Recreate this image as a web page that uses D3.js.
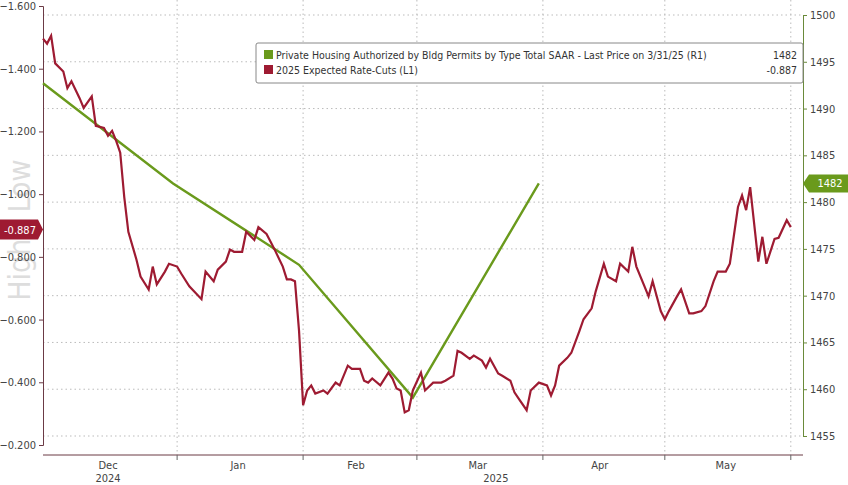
<!DOCTYPE html><html><head><meta charset="utf-8"><script src="https://cdn.jsdelivr.net/npm/d3@7"></script>
<style>body{margin:0;background:#fff}text{font-family:"Liberation Sans Narrow","DejaVu Sans Condensed",Arial,sans-serif}</style></head><body><svg id="c" width="848" height="485"></svg><script>
const leftTicks=[-1.6,-1.4,-1.2,-1.0,-0.8,-0.6,-0.4,-0.2];
const rightTicks=[1455,1460,1465,1470,1475,1480,1485,1490,1495,1500];
const monthLabels=["Dec","Jan","Feb","Mar","Apr","May"];
const monthDates=["2024-12-15","2025-01-16","2025-02-14","2025-03-16","2025-04-15","2025-05-16"];
const gridDates=["2025-01-01","2025-02-01","2025-03-01","2025-04-01","2025-05-01","2025-06-01"];
const permitDates=["2024-11-29","2024-12-31","2025-01-31","2025-02-28","2025-03-31"];
const permitValues=[1492.7,1482.0,1473.3,1459.1,1482.0];
const cutDays=[0,1,2,3,5,6,7,9,10,12,13,15,16,17,18,19,20,21,23,24,26,27,28,30,31,33,34,36,39,40,42,43,45,46,47,49,50,52,53,55,56,57,59,60,61,62,63,64,65,66,67,69,70,72,73,75,76,78,79,80,81,83,85,86,87,88,89,90,91,93,94,96,98,99,101,102,103,105,106,108,109,110,112,113,115,116,117,119,120,122,124,125,126,127,129,130,132,133,135,136,138,139,141,142,144,145,146,148,149,150,152,153,154,156,157,159,160,162,163,165,166,168,169,171,172,173,174,176,177,178,180,181,183,184];
const cutValues=[-1.496,-1.480,-1.505,-1.417,-1.391,-1.338,-1.360,-1.306,-1.275,-1.312,-1.218,-1.211,-1.186,-1.202,-1.170,-1.132,-0.990,-0.880,-0.791,-0.737,-0.696,-0.769,-0.712,-0.753,-0.778,-0.769,-0.747,-0.706,-0.665,-0.753,-0.722,-0.759,-0.785,-0.823,-0.816,-0.816,-0.880,-0.854,-0.895,-0.873,-0.848,-0.823,-0.769,-0.728,-0.728,-0.722,-0.564,-0.327,-0.374,-0.390,-0.364,-0.374,-0.364,-0.399,-0.390,-0.453,-0.443,-0.443,-0.405,-0.399,-0.412,-0.390,-0.431,-0.412,-0.380,-0.374,-0.304,-0.311,-0.374,-0.431,-0.374,-0.399,-0.399,-0.405,-0.421,-0.500,-0.494,-0.475,-0.485,-0.469,-0.447,-0.475,-0.428,-0.421,-0.405,-0.368,-0.349,-0.311,-0.374,-0.399,-0.390,-0.358,-0.390,-0.453,-0.478,-0.494,-0.564,-0.601,-0.636,-0.690,-0.778,-0.737,-0.722,-0.778,-0.753,-0.832,-0.769,-0.706,-0.674,-0.722,-0.627,-0.601,-0.627,-0.674,-0.696,-0.620,-0.620,-0.627,-0.643,-0.722,-0.753,-0.753,-0.778,-0.959,-0.996,-0.949,-1.022,-0.785,-0.864,-0.778,-0.857,-0.861,-0.917,-0.895];
const startDate=new Date(2024,10,29);
const svg=d3.select("#c");
const L=43,R=803,T=0,B=455;
const x=d3.scaleTime().domain([startDate,new Date(2025,5,4)]).range([L,R]);
const yL=d3.scaleLinear().domain([-1.6,-0.2]).range([6,445]);
const yR=d3.scaleLinear().domain([1455,1500]).range([436,15]);
const red="#9e1b32",green="#6a9a1c";
const pd=s=>{const[a,b,c]=s.split("-").map(Number);return new Date(a,b-1,c);};
svg.append("g").selectAll("line").data(rightTicks).join("line").attr("x1",L).attr("x2",R).attr("y1",d=>yR(d)).attr("y2",d=>yR(d)).attr("stroke","#bbb").attr("stroke-dasharray","1.5,3");
svg.append("g").selectAll("line").data(gridDates).join("line").attr("x1",d=>x(pd(d))).attr("x2",d=>x(pd(d))).attr("y1",T).attr("y2",B).attr("stroke","#bbb").attr("stroke-dasharray","1.5,3");
svg.append("text").attr("transform","translate(30,230) rotate(-90)").attr("text-anchor","middle").attr("font-size",30).attr("fill","#ddd").text("High / Low");
svg.append("g").attr("transform",`translate(${L},0)`).call(d3.axisLeft(yL).tickValues(leftTicks).tickSize(4).tickFormat(d3.format(".3f"))).call(g=>{g.select(".domain").attr("stroke","#6b3a45");g.selectAll("text").attr("font-size",11).attr("fill","#444");g.selectAll("line").attr("stroke","#6b3a45");});
svg.append("g").attr("transform",`translate(${R},0)`).call(d3.axisRight(yR).tickValues(rightTicks).tickSize(4).tickFormat(d3.format("d"))).call(g=>{g.select(".domain").attr("stroke","#6a8a3a");g.selectAll("text").attr("font-size",11).attr("fill","#444");g.selectAll("line").attr("stroke","#6a8a3a");});
svg.append("line").attr("x1",L).attr("x2",R).attr("y1",B).attr("y2",B).attr("stroke","#6b3a45");
svg.append("g").selectAll("line").data(gridDates).join("line").attr("x1",d=>x(pd(d))).attr("x2",d=>x(pd(d))).attr("y1",B).attr("y2",B+5).attr("stroke","#666");
svg.append("g").selectAll("text").data(monthLabels).join("text").attr("x",(d,i)=>x(pd(monthDates[i]))).attr("y",469).attr("text-anchor","middle").attr("font-size",11).attr("fill","#444").text(d=>d);
svg.append("text").attr("x",x(pd(monthDates[0]))).attr("y",482).attr("text-anchor","middle").attr("font-size",11).attr("fill","#444").text("2024");
svg.append("text").attr("x",x(pd(monthDates[3]))+18).attr("y",482).attr("text-anchor","middle").attr("font-size",11).attr("fill","#444").text("2025");
svg.append("path").datum(permitDates.map((d,i)=>[pd(d),permitValues[i]])).attr("fill","none").attr("stroke",green).attr("stroke-width",2.4).attr("d",d3.line().x(d=>x(d[0])).y(d=>yR(d[1])));
svg.append("path").datum(cutDays.map((d,i)=>[d3.timeDay.offset(startDate,d),cutValues[i]])).attr("fill","none").attr("stroke",red).attr("stroke-width",2.2).attr("d",d3.line().x(d=>x(d[0])).y(d=>yL(d[1])));
const lg=svg.append("g");
lg.append("rect").attr("x",256).attr("y",43).attr("width",547).attr("height",40).attr("fill","#fff").attr("stroke","#888").attr("rx",2);
lg.append("rect").attr("x",264).attr("y",50).attr("width",9).attr("height",9).attr("fill",green);
lg.append("rect").attr("x",264).attr("y",65).attr("width",9).attr("height",9).attr("fill",red);
lg.append("text").attr("x",276).attr("y",59).attr("font-size",10.5).attr("fill","#333").text("Private Housing Authorized by Bldg Permits by Type Total SAAR - Last Price on 3/31/25 (R1)");
lg.append("text").attr("x",797).attr("y",59).attr("text-anchor","end").attr("font-size",10.5).attr("fill","#333").text(d3.format("d")(permitValues[permitValues.length-1]));
lg.append("text").attr("x",276).attr("y",74).attr("font-size",10.5).attr("fill","#333").text("2025 Expected Rate-Cuts (L1)");
lg.append("text").attr("x",797).attr("y",74).attr("text-anchor","end").attr("font-size",10.5).attr("fill","#333").text("-0.887");
const ly=yL(-0.887);
svg.append("path").attr("d",`M0,${ly-10}H38L43,${ly}L38,${ly+10}H0Z`).attr("fill",red);
svg.append("text").attr("x",20).attr("y",ly+4).attr("text-anchor","middle").attr("font-size",11).attr("fill","#fff").text("-0.887");
const ry=yR(1482);
svg.append("path").attr("d",`M803,${ry}L809,${ry-9}H848V${ry+9}H809Z`).attr("fill",green);
svg.append("text").attr("x",830).attr("y",ry+4).attr("text-anchor","middle").attr("font-size",11).attr("fill","#fff").text("1482");
</script></body></html>
